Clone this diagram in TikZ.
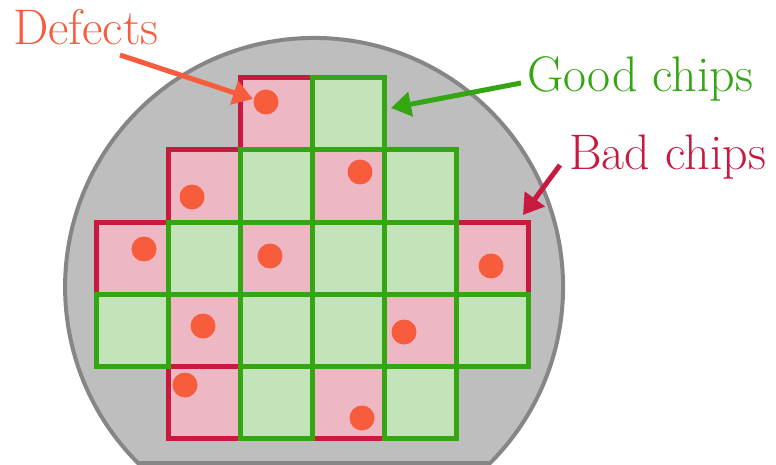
\documentclass[tikz,border=0pt]{standalone}
\usepackage{tikz}
\usetikzlibrary{arrows.meta}

\definecolor{wafergray}{HTML}{BEBEBE}
\definecolor{waferedge}{HTML}{868686}
\definecolor{badred}{HTML}{C8193F}
\definecolor{badfill}{HTML}{EDB8C3}
\definecolor{goodgreen}{HTML}{34A612}
\definecolor{goodfill}{HTML}{C3E3B9}
\definecolor{defect}{HTML}{F75C3D}

\begin{document}
\begin{tikzpicture}[x=1pt, y=-1pt,
    tag/.style={inner sep=0pt, anchor=base west, font=\fontsize{50}{60}\selectfont},
    badchip/.style={draw=badred, fill=badfill, line width=5pt},
    goodchip/.style={draw=goodgreen, fill=goodfill, line width=5pt},
    pointer/.style={line width=5pt, -{Triangle[length=20pt, width=24pt]}}]
  \useasboundingbox (0,0) rectangle (776,465);

  % wafer with flat edge
  \draw[draw=waferedge, fill=wafergray, line width=4pt]
    (138,463) arc[start angle=135, end angle=405, radius=249] -- cycle;

  % chips
  \foreach \c/\r in {2/0, 1/1, 3/1, 0/2, 2/2, 5/2, 1/3, 4/3, 1/4, 3/4}
    \draw[badchip] (96+72*\c, 78+72*\r) rectangle ++(72,72);
  \foreach \c/\r in {3/0, 2/1, 4/1, 1/2, 3/2, 4/2, 0/3, 2/3, 3/3, 5/3, 2/4, 4/4}
    \draw[goodchip] (96+72*\c, 78+72*\r) rectangle ++(72,72);

  % defects
  \foreach \x/\y in {266/102, 192/197, 360/172, 144/249, 270/256,
                     491/266, 203/326, 404/332, 185/385, 362/418}
    \fill[defect] (\x,\y) circle[radius=12.5];

  % labels
  \node (defects) [tag, text=defect] at (13,45) {Defects};
  \node (good) [tag, text=goodgreen] at (527,92) {Good chips};
  \node (bad) [tag, text=badred] at (569,170) {Bad chips};

  \coordinate (defectstail) at (120,55);
  \coordinate (defectstip) at (253,99);
  \coordinate (goodtail) at (521,83);
  \coordinate (goodtip) at (391,108);
  \coordinate (badtail) at (560,165);
  \coordinate (badtip) at (523,215);

  \draw[pointer, draw=defect] (defectstail) -- (defectstip);
  \draw[pointer, draw=goodgreen] (goodtail) -- (goodtip);
  \draw[pointer, draw=badred] (badtail) -- (badtip);
\end{tikzpicture}
\end{document}
